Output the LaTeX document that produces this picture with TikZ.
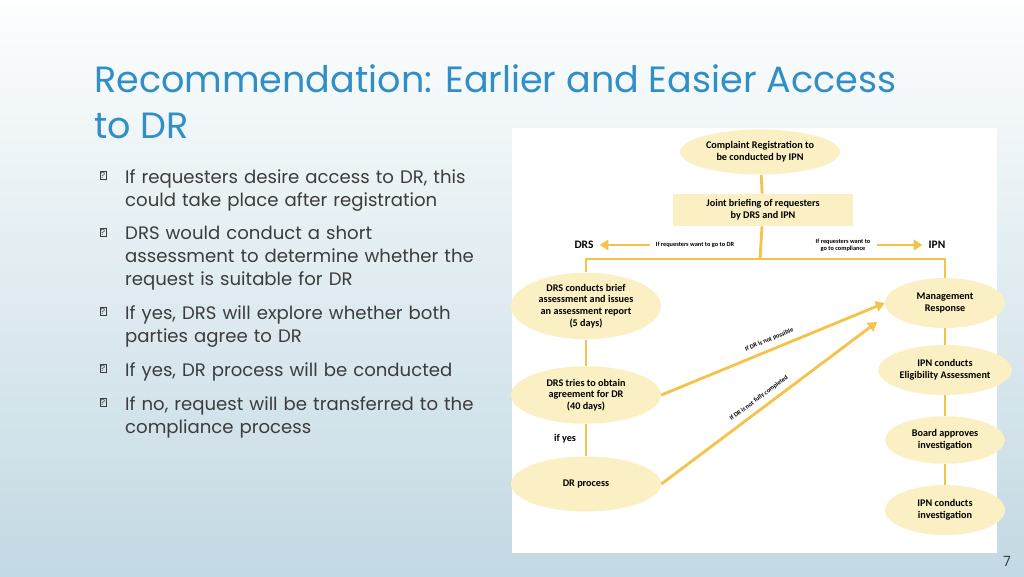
\documentclass[tikz,border=0pt]{standalone}
\usepackage{fontspec}
\setmainfont{Poppins}
\newfontfamily\chartfont{Carlito}
\usetikzlibrary{arrows.meta,positioning,shapes.geometric}
\hyphenpenalty=10000
\definecolor{titleblue}{HTML}{2F8FC6}
\definecolor{bodygrey}{HTML}{3C3C3C}
\definecolor{oval}{HTML}{FBF0C4}
\definecolor{flowline}{HTML}{F5C24A}
\definecolor{bgtop}{HTML}{FDFEFE}
\definecolor{bgbot}{HTML}{C3D9E3}
\tikzset{
    x=0.02cm,y=-0.02cm,
    stage/.style ={ellipse, fill=oval, align=center, inner sep=1pt,
        font=\chartfont\bfseries\fontsize{5.8}{6.6}\selectfont},
    tiny/.style = {text=black, font=\chartfont\bfseries\fontsize{3.6}{4}\selectfont, align=center},
    link/.style = {flowline, line width=1.6pt},
    flow/.style = {link, -{Triangle[length=5pt,width=6pt]}},
    item/.style = {anchor=north west, text width=7cm, align=left, text=bodygrey,
        font=\fontsize{10.3}{13.2}\selectfont}
}
\newcommand{\bulletbox}{\raisebox{0.5pt}{\tikz[baseline]\node[draw=bodygrey,line width=0.3pt,inner sep=0.5pt,font=\fontsize{5}{5}\selectfont] {?};}}
\begin{document}
\begin{tikzpicture}
	\shade[top color=bgtop, bottom color=bgbot] (0,0) rectangle (1024,576);
	\useasboundingbox (0,0) rectangle (1024,576);
	% slide title
	\node[anchor=north west, text=titleblue, align=left, font=\fontsize{20.8}{26.5}\selectfont] (title) at (88,58) {Recommendation: Earlier and Easier Access\\to DR};
	% bullets
	\foreach \ypos/\btext in {163/{If requesters desire access to DR, this could take place after registration},
		220/{DRS would conduct a short assessment to determine whether the request is suitable for DR},
		299/{If yes, DRS will explore whether both parties agree to DR},
		356/{If yes, DR process will be conducted},
		390/{If no, request will be transferred to the compliance process}}
	{
		\node[text=bodygrey] at (103,\ypos+12) {\fontsize{7}{7}\selectfont\bulletbox};
		\node[item] at (119,\ypos) {\btext};
	}
	% chart panel
	\fill[white] (512,128) rectangle (997,553);
	\node[stage, minimum width=3.2cm, minimum height=0.9cm] (reg) at (760,152) {Complaint Registration to\\be conducted by IPN};
	\node[fill=oval, minimum width=3.6cm, minimum height=0.6cm, align=center,
		font=\chartfont\bfseries\fontsize{5.8}{6.6}\selectfont] (brief) at (763,210) {Joint briefing of requesters\\by DRS and IPN};
	\node[font=\chartfont\bfseries\fontsize{6.5}{7}\selectfont] (drs) at (584,245) {DRS};
	\node[font=\chartfont\bfseries\fontsize{6.5}{7}\selectfont] (ipn) at (937,245) {IPN};
	\node[tiny] (todr) at (695,245) {If requesters want to go to DR};
	\node[tiny] (tocomp) at (843,245) {If requesters want to\\go to compliance};
	\coordinate (split) at (760,259);

	\node[stage, minimum width=3cm, minimum height=1.2cm] (assess) at (586,306) {DRS conducts brief\\assessment and issues\\an assessment report\\(5 days)};
	\node[stage, minimum width=3cm, minimum height=1.15cm] (agree) at (586,395) {DRS tries to obtain\\agreement for DR\\(40 days)};
	\node[stage, minimum width=3cm, minimum height=1.1cm] (drproc) at (586,484) {DR process};
	\node[font=\chartfont\bfseries\fontsize{5.8}{6.6}\selectfont] (ifyes) at (565,439) {if yes};

	\node[stage, minimum width=2.4cm, minimum height=1cm] (mgmt) at (945,303) {Management\\Response};
	\node[stage, minimum width=2.4cm, minimum height=1cm] (elig) at (945,370) {IPN conducts\\Eligibility Assessment};
	\node[stage, minimum width=2.4cm, minimum height=0.95cm] (board) at (945,440) {Board approves\\investigation};
	\node[stage, minimum width=2.4cm, minimum height=1cm] (invest) at (945,510) {IPN conducts\\investigation};

	\draw[link] (reg) -- (brief);
	\draw[link] (brief) -- (split);
	\draw[link] (assess.north) |- (split) -| (mgmt.north);
	\draw[flow] (todr) -- (drs);
	\draw[flow] (tocomp) -- (ipn);
	\draw[link] (assess) -- (agree);
	\draw[link] (agree) -- (drproc);
	\draw[link] (mgmt) -- (elig);
	\draw[link] (elig) -- (board);
	\draw[link] (board) -- (invest);
	\draw[flow] (agree.east) -- node[tiny, sloped, above, pos=0.5] {If DR is not possible} (mgmt.west);
	\draw[flow] (drproc.east) -- node[tiny, sloped, above, pos=0.48] {If DR is not fully completed} (877,322);
	% page number
	\node[text=bodygrey, font=\fontsize{8}{9}\selectfont] (page) at (1007,561) {7};
\end{tikzpicture}
\end{document}
